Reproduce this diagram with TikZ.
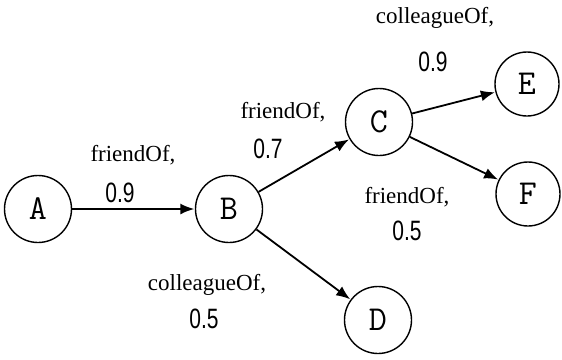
\documentclass[tikz,border=0pt]{standalone}
\usepackage{fontspec}
\setmainfont{Liberation Serif}
\newfontfamily\numfont[FakeStretch=0.75]{Liberation Sans}
\usepackage{tikz}
\usetikzlibrary{arrows.meta,positioning}
\tikzset{
  every picture/.style = {
    x = 1pt,
    y = -1pt,
    >={Latex[length=14pt,width=11pt]},
  }
  ,
  person/.style = {
    circle,
    draw,
    line width = 1.4pt,
    inner sep = 0pt,
    minimum size = 67pt,
    font = \ttfamily\fontsize{35}{35}\selectfont
  }
  , % relation names
  label-rel/.style = {
    font = \fontsize{23}{23}\selectfont
  }
  , % weights
  label-weight/.style = {
    font = \numfont\fontsize{28}{28}\selectfont
  }
  ,
  link/.style = {
    ->,
    line width = 1.8pt,
    shorten > = 0.5pt
  }
}
\begin{document}
\begin{tikzpicture}
		\useasboundingbox (0,0) rectangle (562,359);
		\node at (38,209) [person] (a) {A};
		\node at (229,209) [person] (b) {B};
		\node at (379,122) [person] (c) {C};
		\node at (378,320) [person] (d) {D};
		\node at (527,84) [person,minimum size=64pt] (e) {E};
		\node at (528,194) [person,minimum size=64pt] (f) {F};

		\node at (133,155) [label-rel] (ab-rel) {friendOf,};
		\node at (120,193) [label-weight] (ab-w) {0.9};
		\node at (283,112) [label-rel] (bc-rel) {friendOf,};
		\node at (268,149) [label-weight] (bc-w) {0.7};
		\node at (207,285) [label-rel] (bd-rel) {colleagueOf,};
		\node at (204,319) [label-weight] (bd-w) {0.5};
		\node at (435,18) [label-rel] (ce-rel) {colleagueOf,};
		\node at (433,62) [label-weight] (ce-w) {0.9};
		\node at (407,197) [label-rel] (cf-rel) {friendOf,};
		\node at (407,231) [label-weight] (cf-w) {0.5};

		\draw [link] (a) -- (b);
		\draw [link] (b) -- (c);
		\draw [link] (b) -- (d);
		\draw [link] (c) -- (e);
		\draw [link] (c) -- (f);
\end{tikzpicture}
\end{document}
